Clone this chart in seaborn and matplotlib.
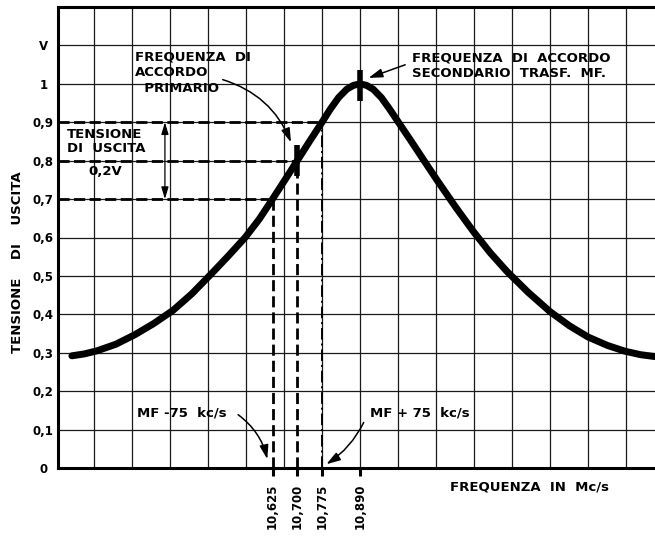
import numpy as np
import pandas as pd
import matplotlib
matplotlib.use("Agg")
import matplotlib.pyplot as plt
import seaborn as sns

# Response curve of the IF transformer: frequency (Mc/s) vs output voltage (V)
freq_mhz = [10.017, 10.055, 10.093, 10.150, 10.208, 10.265, 10.323, 10.380,
            10.438, 10.490, 10.542, 10.585, 10.625, 10.662, 10.700, 10.737,
            10.775, 10.800, 10.825, 10.850, 10.870, 10.890, 10.910, 10.930,
            10.955, 10.980, 11.005, 11.045, 11.085, 11.123, 11.180, 11.235,
            11.285, 11.335, 11.400, 11.466, 11.525, 11.581, 11.640, 11.693,
            11.740, 11.784]
volts = [0.292, 0.297, 0.305, 0.322, 0.347, 0.376, 0.410, 0.453,
         0.504, 0.551, 0.600, 0.648, 0.700, 0.749, 0.800, 0.850,
         0.900, 0.934, 0.964, 0.986, 0.996, 1.000, 0.996, 0.986,
         0.964, 0.934, 0.902, 0.851, 0.799, 0.750, 0.679, 0.614,
         0.560, 0.512, 0.457, 0.407, 0.370, 0.341, 0.319, 0.304,
         0.295, 0.290]

# Marked frequencies on the x axis
tick_freqs = [10.625, 10.700, 10.775, 10.890]
tick_labels = ["10,625", "10,700", "10,775", "10,890"]

# Reference levels and where they meet the curve
level_volts = [0.7, 0.8, 0.9]
level_freqs = [10.625, 10.700, 10.775]

# Voltage scale
y_ticks = [0, 0.1, 0.2, 0.3, 0.4, 0.5, 0.6, 0.7, 0.8, 0.9, 1.0, 1.1]
y_labels = ["0", "0,1", "0,2", "0,3", "0,4", "0,5", "0,6", "0,7", "0,8", "0,9", "1", "V"]

peak_freq = 10.890
peak_volt = 1.0
primary_freq = 10.700
primary_volt = 0.8
grid_step = 0.115

df = pd.DataFrame({"freq": freq_mhz, "volt": volts})

sns.set_theme(style="white")
plt.rcParams["font.family"] = ["DejaVu Sans"]
plt.rcParams["font.weight"] = "bold"

fig = plt.figure(figsize=(6.55, 5.37), dpi=100)
fig.patch.set_facecolor("white")
ax = fig.add_axes([58 / 655, 69 / 537, 597 / 655, 461 / 537])
ax.set_facecolor("white")

x_min, x_max = 9.975, 11.784
ax.set_xlim(x_min, x_max)
ax.set_ylim(0, 1.2)

# Paper grid
grid_x = peak_freq + grid_step * np.arange(-8, 9)
ax.vlines(grid_x, 0, 1.2, color="#1a1a1a", lw=0.9, zorder=1)
ax.hlines(y_ticks[1:], x_min, x_max, color="#1a1a1a", lw=0.9, zorder=1)

# Main curve
sns.lineplot(data=df, x="freq", y="volt", ax=ax, color="black", lw=5,
             solid_capstyle="round", solid_joinstyle="round", zorder=5,
             legend=False)

# Dashed construction lines at 0.7 / 0.8 / 0.9 V
for f, v in zip(level_freqs, level_volts):
    ax.plot([x_min, f], [v, v], color="black", lw=2.0, dashes=(4, 1.6), zorder=3)
for f, v in zip(level_freqs[:2], level_volts[:2]):
    ax.plot([f, f], [0, v], color="black", lw=2.0, dashes=(4, 1.8), zorder=3)
ax.plot([level_freqs[2], level_freqs[2]], [0, level_volts[2]], color="black",
        lw=1.4, dashes=(6, 2, 1, 2), zorder=3)

# Short markers on the curve at the two tuning frequencies
ax.plot([peak_freq, peak_freq], [peak_volt - 0.045, peak_volt + 0.037],
        color="black", lw=4, solid_capstyle="butt", zorder=6)
ax.plot([primary_freq, primary_freq], [primary_volt - 0.04, primary_volt + 0.042],
        color="black", lw=4, solid_capstyle="butt", zorder=6)

# Axes styling
for side in ["left", "bottom", "top"]:
    ax.spines[side].set_visible(True)
    ax.spines[side].set_color("black")
    ax.spines[side].set_linewidth(2.2)
ax.spines["right"].set_visible(False)

ax.set_yticks(y_ticks)
ax.set_yticklabels(y_labels, fontsize=8.5, fontweight="bold", ha="center")
ax.tick_params(axis="y", length=0, pad=10.5, colors="black")

ax.set_xticks(tick_freqs)
ax.set_xticklabels(tick_labels, rotation=90, fontsize=8.5, fontweight="bold")
ax.tick_params(axis="x", direction="out", length=6, width=2.2, pad=5,
               colors="black", bottom=True)
ax.set_xlabel("")
ax.set_ylabel("")

txt = dict(fontsize=9.5, fontweight="bold", color="black")

# Axis titles
ax.text(11.405, -0.049, "FREQUENZA  IN  Mc/s", ha="center", va="center",
        clip_on=False, **txt)
fig.text(18 / 655, 1 - 262 / 537, "TENSIONE    DI    USCITA", rotation=90,
         ha="center", va="center", **txt)

arrow = dict(arrowstyle="-|>,head_length=0.7,head_width=0.22", color="black", lw=1.1)

# Primary tuning annotation
ax.text(10.208, 1.088, "FREQUENZA  DI\nACCORDO\n  PRIMARIO", ha="left", va="top",
        linespacing=1.3, **txt)
ax.annotate("", xy=(10.684, 0.841), xytext=(10.466, 1.013),
            arrowprops=dict(connectionstyle="arc3,rad=-0.25", **arrow))

# Secondary tuning annotation
ax.text(11.048, 1.085, "FREQUENZA  DI  ACCORDO\nSECONDARIO  TRASF.  MF.",
        ha="left", va="top", linespacing=1.25, **txt)
ax.annotate("", xy=(10.908, 1.013), xytext=(11.035, 1.052),
            arrowprops=dict(connectionstyle="arc3,rad=0", **arrow))

# Output voltage span
ax.text(10.002, 0.885, "TENSIONE\nDI  USCITA", ha="left", va="top",
        linespacing=1.05, **txt)
ax.text(10.066, 0.771, "0,2V", ha="left", va="center", **txt)
ax.annotate("", xy=(10.299, 0.7), xytext=(10.299, 0.9),
            arrowprops=dict(arrowstyle="<|-|>,head_length=0.6,head_width=0.18",
                            color="black", lw=0.9, shrinkA=0, shrinkB=0))

# Channel edges
ax.text(10.214, 0.143, "MF -75  kc/s", ha="left", va="center", **txt)
ax.annotate("", xy=(10.611, 0.016), xytext=(10.514, 0.143),
            arrowprops=dict(connectionstyle="arc3,rad=-0.2", **arrow))
ax.text(10.92, 0.143, "MF + 75  kc/s", ha="left", va="center", **txt)
ax.annotate("", xy=(10.781, 0.006), xytext=(10.905, 0.125),
            arrowprops=dict(connectionstyle="arc3,rad=-0.15", **arrow))

fig.savefig("out.png", dpi=100, facecolor="white")
